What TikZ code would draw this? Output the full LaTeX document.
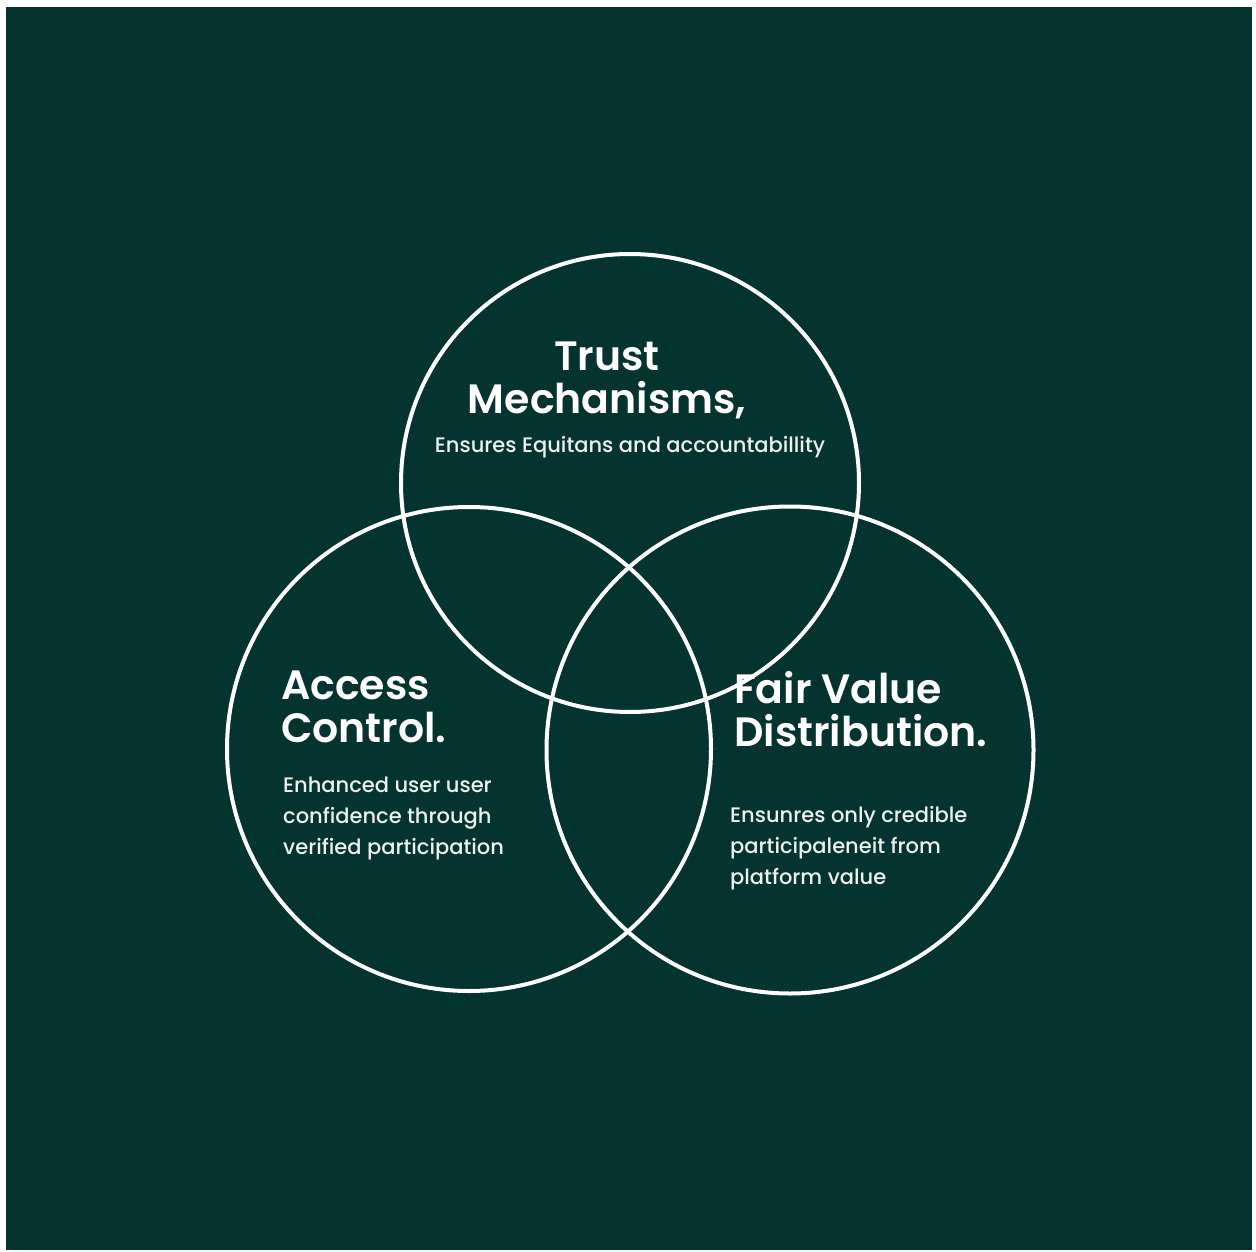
\documentclass[tikz,border=0pt]{standalone}
\usepackage{fontspec}
\setmainfont{Poppins}
\newfontfamily\headfont{Poppins SemiBold}
\newfontfamily\blurbfont{Poppins Medium}
\definecolor{pine}{RGB}{4,51,48}
\definecolor{chalk}{RGB}{236,242,238}

\tikzset{
  ring/.style={circle, draw=white, line width=4pt, minimum size=#1, inner sep=0pt},
  head/.style={text=white, font=\fontsize{41}{43}\headfont, inner sep=0pt},
  blurb/.style={text=chalk, font=\fontsize{21}{31}\blurbfont, inner sep=0pt, align=left},
}

\begin{document}
\begin{tikzpicture}[x=1pt,y=-1pt]
\useasboundingbox (0,0) rectangle (1256,1252);
\fill[white] (0,0) rectangle (1256,1252);
\fill[pine] (6,7) rectangle (1252,1250);

% the three rings
\node[ring=458pt] (trust)  at (630,483) {};
\node[ring=484pt] (access) at (469,749) {};
\node[ring=487pt] (fair)   at (790,750) {};

% top ring
\node[head, align=center, anchor=base] (trusthead) at (607,413) {Trust\\Mechanisms,};
\node[blurb, anchor=base] (trusttext) at (630,452) {Ensures Equitans and accountabillity};

% left ring
\node[head, align=left, anchor=base west] (accesshead) at (281,742) {Access\\Control.};
\node[blurb, anchor=base west] (accesstext) at (283,854)
  {Enhanced user user\\confidence through\\verified participation};

% right ring
\node[head, align=left, anchor=base west] (fairhead) at (734,746) {Fair Value\\Distribution.};
\node[blurb, anchor=base west] (fairtext) at (730,884)
  {Ensunres only credible\\participaleneit from\\platform value};
\end{tikzpicture}
\end{document}
